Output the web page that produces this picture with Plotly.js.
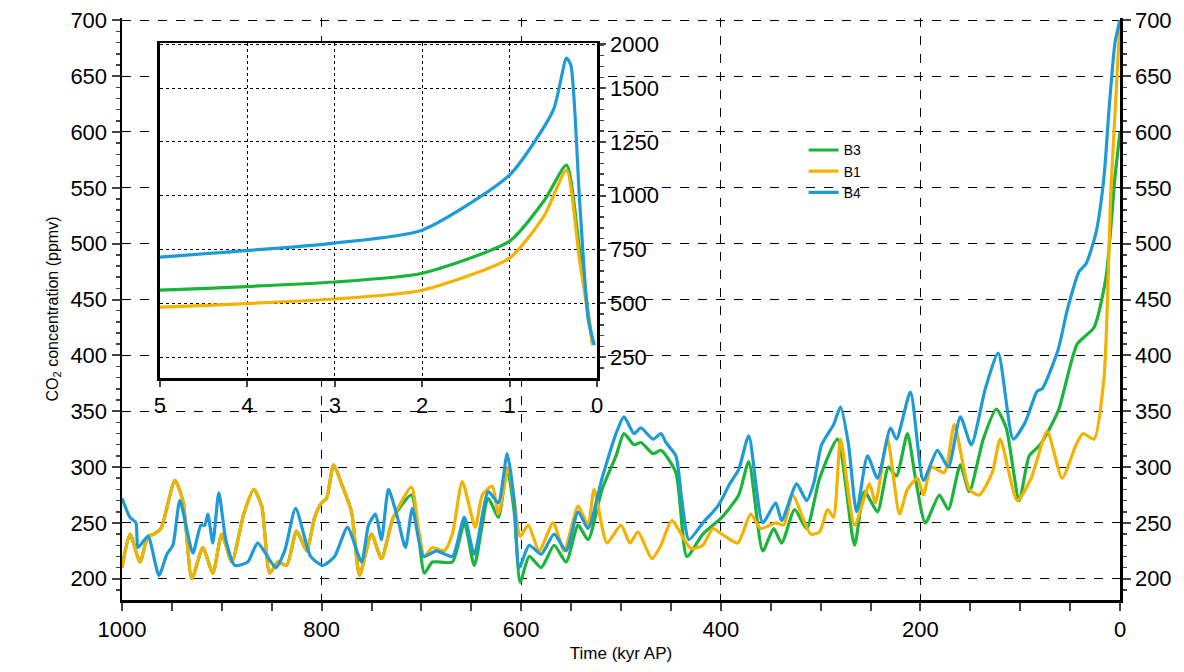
<!DOCTYPE html>
<html>
<head>
<meta charset="utf-8">
<script src="https://cdn.plot.ly/plotly-3.0.1.min.js"></script>
<style>body{margin:0;background:#fff}#chart{width:1184px;height:672px}</style>
</head>
<body>
<div id="chart"></div>
<script>
// main panel: time (kyr AP) and CO2 (ppmv)
const B1_T = [1000,992,982,974,968,961,947,939,930,919,909,900,890,878,868,860,852,844,835,825,815,807,800,795,788,780,770,762,750,740,728,710,703,697,689,677,669,659,646,639,629,623,613,607,601,593,582,568,557,543,533,527,514,
  500,491,483,469,460,449,430,418,408,399,383,370,360,345,337,328,310,301,293,287,280,266,251,245,233,221,213,203,197,189,176,166,151,141,128,120,103,89,73,58,44,37,26,16,9,0];
const B1_Y = [210,240,215,238,240,245,288,270,200,228,205,240,215,258,280,265,205,215,212,243,225,255,268,272,302,285,260,203,240,218,255,282,245,220,228,225,240,287,246,275,283,258,300,270,238,248,225,250,225,265,248,280,232,
  248,232,242,218,230,252,227,230,245,240,232,258,245,250,248,275,240,242,262,255,325,248,285,268,325,258,280,290,275,300,295,338,280,275,295,325,270,290,332,290,320,330,325,380,550,700];

const B4_T = [1000,992,986,984,974,963,955,949,942,929,921,917,914,909,903,896,887,874,864,846,837,826,811,799,787,774,760,753,746,740,733,724,716,709,698,685,669,657,647,633,623,614,607,602,592,580,567,555,543,533,519,
  505,497,487,480,468,460,455,445,439,432,418,403,391,382,372,358,345,339,324,314,307,299,287,280,272,264,253,243,230,224,210,197,183,172,160,149,135,122,107,95,83,78,62,53,41,34,24,16,11,5,0];
const B4_Y = [272,255,250,228,238,203,222,230,270,223,248,248,258,232,277,235,212,215,232,210,225,263,220,212,220,246,215,248,258,235,280,255,228,263,220,225,220,255,222,278,268,312,270,210,230,222,240,225,260,245,290,
  330,345,330,335,325,330,322,310,270,235,250,265,285,298,328,250,268,252,285,270,285,320,338,354,320,260,310,290,335,325,367,288,315,300,345,320,370,402,325,340,368,370,405,440,475,482,510,560,620,680,700];

const B3_T = [1000,992,982,974,968,961,947,939,930,919,909,900,890,878,868,860,852,844,835,825,815,807,800,795,788,780,770,762,750,740,728,710,703,697,689,669,657,647,633,623,614,607,601,592,580,567,555,543,533,519,
  505,497,487,480,468,460,445,434,418,399,382,372,358,347,339,326,314,301,283,266,256,243,232,224,213,205,195,181,172,160,151,137,124,114,101,91,80,62,43,26,14,5,0];
const B3_Y = [210,240,215,238,240,245,288,270,200,228,205,240,215,258,280,265,205,215,212,243,225,255,268,272,302,285,260,203,240,218,255,275,240,205,215,215,250,212,272,255,298,260,197,220,210,230,215,248,235,280,
  310,330,320,322,312,315,295,220,240,255,275,305,225,245,232,262,245,290,325,230,278,260,300,292,330,290,250,275,262,302,278,325,352,335,270,310,320,350,410,425,470,560,600];

// inset: last 5 kyr
const IN_T = [5,3,2,1,0.6,0.35,0.2,0.05];
const IN_B3 = [561,599,640,789,980,1142,747,306];
const IN_B1 = [482,520,561,710,910,1119,701,306];
const IN_B4_T = [5,3,2,1,0.5,0.35,0.3,0.2,0.1,0.03];
const IN_B4 = [715,780,840,1096,1398,1639,1607,980,422,306];
const IN_TICKS = [250, 500, 750, 1000, 1250, 1500, 1703];
const IN_TICKTEXT = ["250", "500", "750", "1000", "1250", "1500", "2000"];

const GREEN = "#1cb33a", YELLOW = "#f3b200", BLUE = "#1e9ad6";
const FONT = "Liberation Sans, Arial, sans-serif";

const X_RANGE = [1000, 0], Y_RANGE = [181, 702];
const INSET_X = [0.038, 0.476], INSET_Y = [0.381, 0.957];

// white patch on the main axes behind the inset, so main gridlines don't show through
const atX = (f) => X_RANGE[0] + f * (X_RANGE[1] - X_RANGE[0]);
const atY = (f) => Y_RANGE[0] + f * (Y_RANGE[1] - Y_RANGE[0]);
const patchX = [atX(INSET_X[0]), atX(INSET_X[1]), atX(INSET_X[1]), atX(INSET_X[0]), atX(INSET_X[0])];
const patchY = [atY(INSET_Y[0]), atY(INSET_Y[0]), atY(INSET_Y[1]), atY(INSET_Y[1]), atY(INSET_Y[0])];

const line = (color) => ({ color, width: 3.2, shape: "spline", smoothing: 0.6 });

const traces = [
  { type: "scatter", mode: "lines", x: patchX, y: patchY, fill: "toself", fillcolor: "#fff", line: { width: 0 }, showlegend: false, hoverinfo: "skip" },
  { type: "scatter", mode: "lines", name: "B3", x: B3_T, y: B3_Y, line: line(GREEN) },
  { type: "scatter", mode: "lines", name: "B1", x: B1_T, y: B1_Y, line: line(YELLOW) },
  { type: "scatter", mode: "lines", name: "B4", x: B4_T, y: B4_Y, line: line(BLUE) },
  { type: "scatter", mode: "lines", x: [], y: [], yaxis: "y3", showlegend: false },
  { type: "scatter", mode: "lines", x: IN_T, y: IN_B3, xaxis: "x2", yaxis: "y2", line: line(GREEN), showlegend: false },
  { type: "scatter", mode: "lines", x: IN_T, y: IN_B1, xaxis: "x2", yaxis: "y2", line: line(YELLOW), showlegend: false },
  { type: "scatter", mode: "lines", x: IN_B4_T, y: IN_B4, xaxis: "x2", yaxis: "y2", line: line(BLUE), showlegend: false },
];

const gridDash = { gridcolor: "#000", griddash: "dash", gridwidth: 1 };
const tickfont = { size: 22 };

const layout = {
  width: 1184,
  height: 672,
  margin: { l: 122, r: 64, t: 18, b: 72 },
  paper_bgcolor: "#fff",
  plot_bgcolor: "rgba(0,0,0,0)",
  font: { family: FONT, color: "#000", size: 19 },
  showlegend: true,
  legend: { x: 0.683, y: 0.8, xanchor: "left", yanchor: "top", bgcolor: "rgba(0,0,0,0)", font: { size: 14 }, tracegroupgap: 0 },
  xaxis: {
    range: X_RANGE, domain: [0, 1], tickvals: [1000, 800, 600, 400, 200, 0], tickfont,
    ticks: "outside", ticklen: 8, tickwidth: 2, showline: true, linewidth: 2.5, linecolor: "#000",
    minor: { dtick: 50, ticks: "outside", ticklen: 8, tickwidth: 2, showgrid: false },
    ...gridDash, zeroline: false,
    title: { text: "Time (kyr AP)", font: { size: 17 }, standoff: 6 },
  },
  yaxis: {
    range: Y_RANGE, domain: [0, 1], dtick: 50, tick0: 0, tickfont,
    ticks: "outside", ticklen: 8, tickwidth: 2, showline: true, linewidth: 2.5, linecolor: "#000",
    minor: { dtick: 10, ticks: "outside", ticklen: 4, tickwidth: 1.5, showgrid: false },
    ...gridDash, zeroline: false,
    title: { text: "CO<sub>2</sub> concentration (ppmv)", font: { size: 16 }, standoff: 8 },
  },
  yaxis3: {
    overlaying: "y", side: "right", range: Y_RANGE, dtick: 50, tick0: 0, tickfont,
    ticks: "outside", ticklen: 8, tickwidth: 2, showline: true, linewidth: 2.5, linecolor: "#000",
    minor: { dtick: 10, ticks: "outside", ticklen: 4, tickwidth: 1.5, showgrid: false },
    showgrid: false, zeroline: false,
  },
  xaxis2: {
    anchor: "y2", domain: INSET_X, range: [5, 0], dtick: 1, tickfont,
    ticks: "outside", ticklen: 6, tickwidth: 2, showline: true, mirror: true, linewidth: 2.5, linecolor: "#000",
    gridcolor: "#000", griddash: "dot", gridwidth: 1, zeroline: false,
  },
  yaxis2: {
    anchor: "x2", domain: INSET_Y, range: [152, 1709], tickvals: IN_TICKS, ticktext: IN_TICKTEXT, tickfont,
    side: "right", ticks: "outside", ticklen: 6, tickwidth: 2, showline: true, mirror: true, linewidth: 2.5, linecolor: "#000",
    minor: { dtick: 50, ticks: "outside", ticklen: 4, tickwidth: 1.5, showgrid: false },
    gridcolor: "#000", griddash: "dot", gridwidth: 1, zeroline: false,
  },
};

Plotly.newPlot("chart", traces, layout, { displayModeBar: false, staticPlot: true });
</script>
</body>
</html>
